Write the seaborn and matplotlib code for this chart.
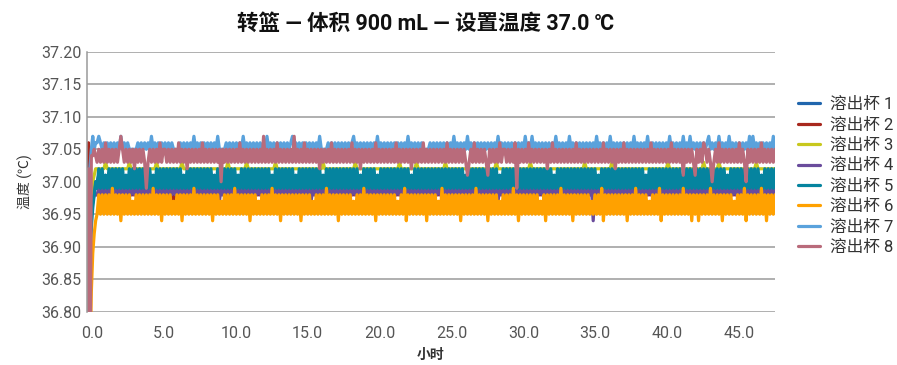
import numpy as np
import pandas as pd
import matplotlib
matplotlib.use("Agg")
import matplotlib.pyplot as plt
import seaborn as sns

# ---- data -------------------------------------------------------------
CUPS = ["溶出杯 1", "溶出杯 2", "溶出杯 3", "溶出杯 4",
        "溶出杯 5", "溶出杯 6", "溶出杯 7", "溶出杯 8"]
COLORS = ["#2166ad", "#a8281e", "#c8c81e", "#6a4c9c",
          "#05849f", "#ffa100", "#5aa2dc", "#b96b7b"]

# warm-up readings (hours, °C) before the bath settles
WARMUP_T = [-0.35, -0.25, -0.15, -0.05, 0.05, 0.15, 0.25]
WARMUP = {
    "溶出杯 1": [36.45, 36.80, 36.93, 36.97, 36.99, 37.00, 37.00],
    "溶出杯 2": [36.70, 37.06, 36.95, 36.97, 36.98, 36.98, 36.98],
    "溶出杯 3": [36.50, 36.80, 36.93, 36.98, 37.00, 37.01, 37.02],
    "溶出杯 4": [36.45, 36.75, 36.90, 36.95, 36.97, 36.98, 36.98],
    "溶出杯 5": [36.40, 36.70, 36.85, 36.93, 36.96, 36.98, 37.00],
    "溶出杯 6": [36.30, 36.55, 36.72, 36.83, 36.89, 36.92, 36.94],
    "溶出杯 7": [36.60, 36.90, 37.02, 37.05, 37.07, 37.05, 37.06],
    "溶出杯 8": [36.40, 37.02, 36.60, 37.04, 37.04, 37.05, 37.04],
}

# steady-state logging from 0.35 h to 47.5 h, stored as 0.01 °C steps above a base
STEADY_START, STEADY_END = 0.35, 47.5
BASE = {"溶出杯 1": 36.98, "溶出杯 2": 36.94, "溶出杯 3": 37.00, "溶出杯 4": 36.94,
        "溶出杯 5": 36.98, "溶出杯 6": 36.94, "溶出杯 7": 37.04, "溶出杯 8": 36.99}
STEPS = {
    "溶出杯 1": (
        "2323232323232323232323232323232323232323"
        "2323232323232323232323232323232323232323"
        "2323232323232323232323232323232323232323"
        "2323232323232323232323232323232323232323"
        "2323232323232323232323232323232323232323"
        "2323232323232323232323232323232323232323"
        "2323232323232323232323232323232323232323"
        "2323232323232323232323232323232323232323"
        "2323232323232323232323232323232323232323"
        "2323232323232323232323232323232323232323"),
    "溶出杯 2": (
        "4444444444444444344444444444434444444444"
        "4444434444444444444444444443444444444444"
        "4444444444444444444444444444444444444444"
        "4444444444444444444444444444444444444444"
        "4444444444444444444434444444444444444444"
        "4444444444444444444444444444444444444444"
        "4444444444444444444444444444444444444444"
        "4444444444444444444444444444444444444444"
        "4444444444444444444444444444444444444444"
        "4444444444444444444444444444444444444444"),
    "溶出杯 3": (
        "2222232222222222222322222222222222232222"
        "2222222222322222222222222222222222222322"
        "2222222232222222222222222322222222222222"
        "2222222222222322222222222222222232222222"
        "2222222222222222223222222222322222222222"
        "2222232222222222222222222222222222232222"
        "2222222222222223222222222222222222222222"
        "2222222322222222222222232222222222222222"
        "2222222222222222322222222222222222222322"
        "2222223222222222222222222222322222222222"),
    "溶出杯 4": (
        "4545454545454535454545454545453545454545"
        "4545454545353545454545454545454535454545"
        "4545454545454545453545454545454545454545"
        "4545353545454545454545454545354545454545"
        "4545454545454545454545453545454545454545"
        "4545454535454545454545454545454545453545"
        "4545454545454545453545454545454545454545"
        "4545454545450545454545454545353545454545"
        "4545454545454545454545454545454545454545"
        "4545453545454545454545454545454545454545"),
    "溶出杯 5": (
        "1414131414141414131414141414141413141414"
        "1414141414131414141414141414131414141414"
        "1413141414141414141414131414141414141314"
        "1414141414141314141414141414141414131414"
        "1414131414141414141414141314141414141414"
        "1414141414141414131414141414141414141314"
        "1414141314141414141414141414131414141414"
        "1414141414141413141414141414141414141414"
        "1413141414141414141414141314141414141414"
        "1414141414131414141414141414141314141414"),
    "溶出杯 6": (
        "1414141415141404141413141414141415141404"
        "1414131414041414151414141414041413141414"
        "1514141414041413141414151414041414141414"
        "0414141314141415141414041414141314141514"
        "1414041414141414131415041414141414041414"
        "1315141414141404141414151414140414141314"
        "1414151404141414141413140414141415141414"
        "0414141414131414150414141414141404141514"
        "1414131414150414141414141514140414041414"
        "1514141404141413141415041414141514041414"),
    "溶出杯 7": (
        "2321212121212131212111112121212131212121"
        "2121211112121212131212121212121311112121"
        "2121213121212121212131212121212121231212"
        "1212121212131111212121212121212312121212"
        "1212131212121212121212131212121211112121"
        "2121212121312121213121212121212121213121"
        "2121212121213121312121212121213121212131"
        "2121212121212131212121312121212121213121"
        "2121311212121212131212121312131212121212"
        "3121213121213121212121213131212121212131"),
    "溶出杯 8": (
        "4646474646464686464646364646404646464746"
        "6464646474646364646464746464646461646464"
        "6464746464646464648464646474646464648464"
        "6474646464636464647464646464647464636464"
        "6464746464646464746464646364646474646464"
        "6464647464646464642464746464642646464746"
        "6464647064646474646464646364746464646464"
        "6474646464646464647464646364647464646464"
        "6464647464646464647464646264646426464764"
        "6414647464646464647464164646464746464646"),
}

# ---- long-form table ----------------------------------------------------
frames = []
for cup in CUPS:
    steady = [BASE[cup] + int(c) * 0.01 for c in STEPS[cup]]
    t = list(WARMUP_T) + list(np.linspace(STEADY_START, STEADY_END, len(steady)))
    frames.append(pd.DataFrame({"小时": t, "温度": WARMUP[cup] + steady, "杯": cup}))
df = pd.concat(frames, ignore_index=True)

# ---- plot -------------------------------------------------------------
sns.set_theme(style="white")
plt.rcParams["font.family"] = ["Roboto", "Noto Sans CJK SC", "DejaVu Sans"]

fig = plt.figure(figsize=(8.97, 3.65), dpi=100)
ax = fig.add_axes([0.097, 0.146, 0.767, 0.712])

sns.lineplot(data=df, x="小时", y="温度", hue="杯", hue_order=CUPS,
             palette=dict(zip(CUPS, COLORS)), estimator=None, sort=False,
             linewidth=2.3, ax=ax)

ax.set_xlim(-0.35, 47.5)
ax.set_ylim(36.80, 37.20)
ax.set_yticks(np.arange(36.80, 37.2001, 0.05))
ax.set_xticks(np.arange(0, 46, 5.0))
ax.yaxis.set_major_formatter(matplotlib.ticker.FormatStrFormatter("%.2f"))
ax.xaxis.set_major_formatter(matplotlib.ticker.FormatStrFormatter("%.1f"))
ax.tick_params(axis="both", length=0, labelsize=11.5, labelcolor="#555555")
ax.tick_params(axis="x", pad=10)
ax.tick_params(axis="y", pad=4)

ax.yaxis.grid(True, color="#9a9a9a", linewidth=1.1)
ax.xaxis.grid(False)
ax.set_axisbelow(True)
for side in ("top", "right", "bottom"):
    ax.spines[side].set_visible(False)
ax.spines["left"].set_color("#9a9a9a")
ax.spines["left"].set_linewidth(1.1)

ax.set_xlabel("小时", fontsize=10, color="#333333", fontweight="bold", labelpad=5.5)
ax.set_ylabel("温度 (℃)", fontsize=10, color="#333333", labelpad=6)

fig.suptitle("转篮 — 体积 900 mL — 设置温度 37.0 ℃", x=0.474, y=0.965,
             fontsize=15.5, fontweight="bold", color="#111111")

handles, labels = ax.get_legend_handles_labels()
ax.get_legend().remove()
fig.legend(handles, labels, loc="upper left", bbox_to_anchor=(0.873, 0.775),
           frameon=False, fontsize=12, labelcolor="#333333",
           handlelength=1.3, handletextpad=0.6, labelspacing=0.32)

fig.savefig("out.png", dpi=100, facecolor="white")
